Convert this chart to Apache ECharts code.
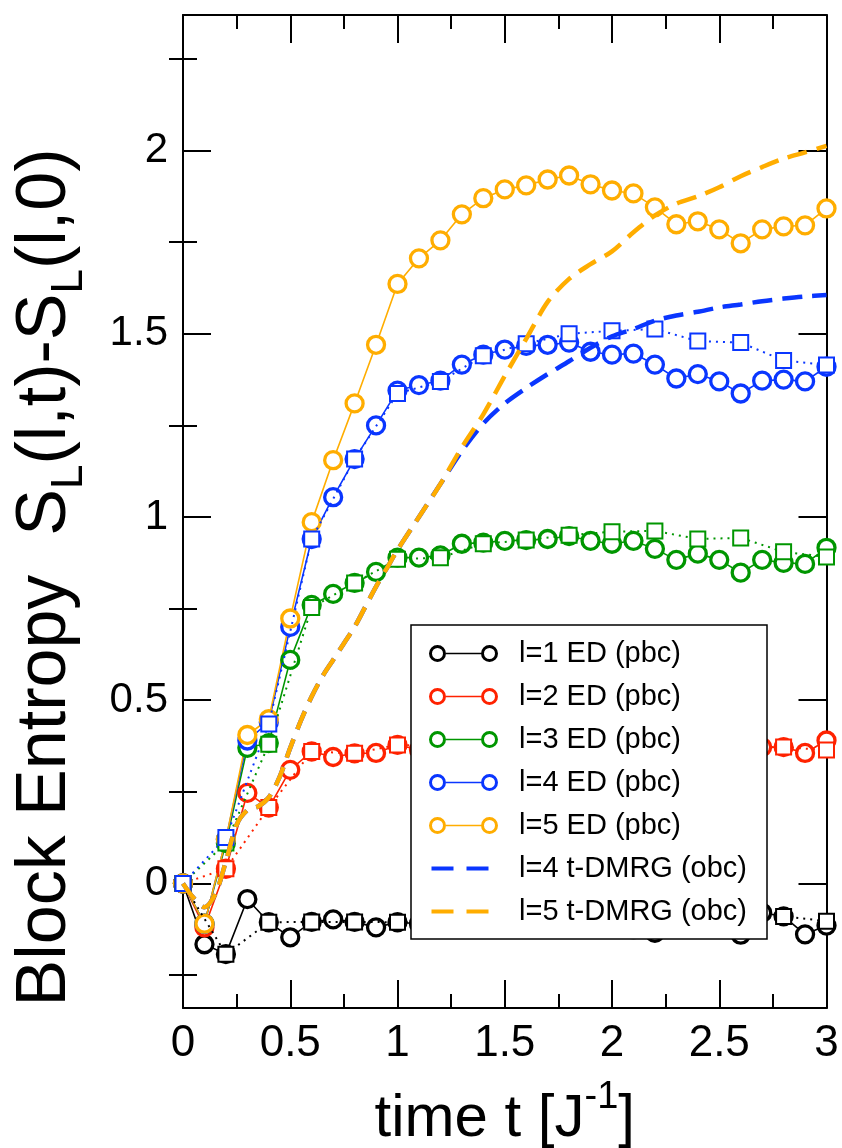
<!DOCTYPE html>
<html>
<head>
<meta charset="utf-8">
<script src="https://cdn.jsdelivr.net/npm/echarts@6/dist/echarts.min.js"></script>
<style>
html,body{margin:0;padding:0;background:#fff;}
#chart{width:842px;height:1148px;}
</style>
</head>
<body>
<div id="chart"></div>
<script>
// ---------- data ----------
const tED = [0,0.1,0.2,0.3,0.4,0.5,0.6,0.7,0.8,0.9,1.0,1.1,1.2,1.3,1.4,1.5,1.6,1.7,1.8,1.9,2.0,2.1,2.2,2.3,2.4,2.5,2.6,2.7,2.8,2.9,3.0];
const tObc = [0,0.2,0.4,0.6,0.8,1.0,1.2,1.4,1.6,1.8,2.0,2.2,2.4,2.6,2.8,3.0];
const tDMRG = [0,0.05,0.1,0.15,0.2,0.25,0.3,0.35,0.4,0.45,0.5,0.55,0.6,0.65,0.7,0.75,0.8,0.85,0.9,0.95,1.0,1.1,1.2,1.3,1.4,1.5,1.6,1.7,1.8,1.9,2.0,2.1,2.2,2.3,2.4,2.5,2.6,2.7,2.8,2.9,3.0];

const l1ED = [0,-0.166,-0.193,-0.043,-0.106,-0.147,-0.105,-0.098,-0.105,-0.12,-0.106,-0.11,-0.105,-0.12,-0.11,-0.115,-0.1,-0.11,-0.12,-0.105,-0.11,-0.125,-0.135,-0.11,-0.12,-0.115,-0.14,-0.08,-0.09,-0.139,-0.115];
const l2ED = [0,-0.12,0.04,0.247,0.207,0.31,0.36,0.345,0.355,0.356,0.378,0.365,0.375,0.36,0.372,0.368,0.38,0.37,0.376,0.37,0.368,0.375,0.365,0.37,0.36,0.372,0.365,0.372,0.372,0.356,0.39];
const l3ED = [0,-0.11,0.11,0.37,0.383,0.61,0.76,0.79,0.82,0.85,0.889,0.889,0.895,0.927,0.93,0.935,0.937,0.94,0.948,0.935,0.927,0.935,0.913,0.883,0.9,0.883,0.848,0.883,0.875,0.872,0.916];
const l4ED = [0,-0.11,0.12,0.39,0.44,0.70,0.94,1.054,1.158,1.25,1.345,1.36,1.372,1.416,1.443,1.457,1.467,1.47,1.476,1.451,1.443,1.446,1.416,1.378,1.39,1.37,1.337,1.372,1.375,1.37,1.41];
const l5ED = [0,-0.11,0.12,0.405,0.448,0.723,0.986,1.155,1.31,1.47,1.636,1.706,1.755,1.826,1.87,1.894,1.905,1.921,1.932,1.908,1.891,1.883,1.845,1.799,1.807,1.785,1.747,1.785,1.793,1.796,1.842];

const l1Obc = [0,-0.193,-0.106,-0.105,-0.105,-0.106,-0.105,-0.11,-0.1,-0.115,-0.105,-0.115,-0.11,-0.105,-0.09,-0.103];
const l2Obc = [0,0.04,0.207,0.36,0.355,0.378,0.375,0.372,0.38,0.376,0.368,0.37,0.372,0.37,0.372,0.364];
const l3Obc = [0,0.11,0.38,0.753,0.82,0.885,0.889,0.927,0.937,0.95,0.96,0.962,0.94,0.943,0.905,0.891];
const l4Obc = [0,0.125,0.435,0.94,1.158,1.337,1.37,1.44,1.473,1.50,1.508,1.513,1.48,1.476,1.427,1.415];

const l4DMRG = [0,-0.04,-0.065,-0.03,0.06,0.16,0.2,0.21,0.235,0.29,0.37,0.445,0.51,0.565,0.61,0.655,0.7,0.755,0.81,0.86,0.91,1.0,1.09,1.18,1.255,1.31,1.352,1.39,1.425,1.462,1.493,1.513,1.536,1.55,1.56,1.572,1.58,1.589,1.596,1.602,1.606];
const l5DMRG = [0,-0.04,-0.065,-0.03,0.06,0.16,0.2,0.21,0.235,0.29,0.37,0.445,0.51,0.565,0.61,0.655,0.7,0.755,0.81,0.86,0.91,1.0,1.09,1.19,1.28,1.385,1.486,1.587,1.65,1.69,1.725,1.777,1.823,1.855,1.875,1.90,1.93,1.955,1.978,1.995,2.013];

const xTicks = [0,0.5,1,1.5,2,2.5,3];
const yMajor = [0,0.5,1,1.5,2];
const yMinor = [-0.25,0.25,0.75,1.25,1.75,2.25];

const edNames = ['l=1 ED (pbc)','l=2 ED (pbc)','l=3 ED (pbc)','l=4 ED (pbc)','l=5 ED (pbc)'];
const obcNames = ['l=1 ED (obc)','l=2 ED (obc)','l=3 ED (obc)','l=4 ED (obc)'];
const dmrgNames = ['l=4 t-DMRG (obc)','l=5 t-DMRG (obc)'];

// ---------- styles ----------
const colors = ['#000000','#ff2200','#009600','#0a36ff','#ffad00'];
const FONT = 'Liberation Sans, Arial, Helvetica, sans-serif';

function zip(xs, ys){ return xs.map((x,i)=>[x, ys[i]]); }

const edData = [l1ED,l2ED,l3ED,l4ED,l5ED];
const obcData = [l1Obc,l2Obc,l3Obc,l4Obc];

const series = [];
edData.forEach((d,i)=>{
  series.push({
    name: edNames[i], type:'line', data: zip(tED,d),
    symbol:'circle', symbolSize:17, showAllSymbol:true,
    itemStyle:{color:'#ffffff', borderColor:colors[i], borderWidth:3.3},
    lineStyle:{color:colors[i], width:1.6},
    z: 3, emphasis:{disabled:true}
  });
});
obcData.forEach((d,i)=>{
  series.push({
    name: obcNames[i], type:'line', data: zip(tObc,d),
    symbol:'rect', symbolSize:15, showAllSymbol:true,
    itemStyle:{color:'#ffffff', borderColor:colors[i], borderWidth:2},
    lineStyle:{color:colors[i], width:2, type:[2,5]},
    z: 4, emphasis:{disabled:true}
  });
});
[l4DMRG,l5DMRG].forEach((d,i)=>{
  const c = colors[3+i];
  series.push({
    name: dmrgNames[i], type:'line', data: zip(tDMRG,d),
    showSymbol:false, symbol:'none', smooth:0.3,
    itemStyle:{color:c},
    lineStyle:{color:c, width:4.5, type:[20,10]},
    z: 5, emphasis:{disabled:true}
  });
});

const ring = (cx)=>`M${cx-8.5},8.5 A8.5,8.5 0 1,0 ${cx+8.5},8.5 A8.5,8.5 0 1,0 ${cx-8.5},8.5 Z M${cx-5.5},8.5 A5.5,5.5 0 1,1 ${cx+5.5},8.5 A5.5,5.5 0 1,1 ${cx-5.5},8.5 Z`;
const edIcon = 'path://' + ring(8.5) + ' M17,7.7 L52,7.7 L52,9.3 L17,9.3 Z ' + ring(60.5);
const dashIcon = 'path://M3,0 L4,0 L4,0.01 L3,0.01 Z M69,17 L68,17 L68,16.99 L69,16.99 Z M4,6.5 L26,6.5 L26,10.5 L4,10.5 Z M39,6.5 L61,6.5 L61,10.5 L39,10.5 Z';

const legendData = edNames.map((n,i)=>({name:n, icon: edIcon, itemStyle:{color:colors[i], borderWidth:0}}))
  .concat(dmrgNames.map((n,i)=>({name:n, icon: dashIcon, itemStyle:{color:colors[3+i], borderWidth:0}})));

const tickStyle = {color:'#000', width:2};

const option = {
  animation:false,
  backgroundColor:'#ffffff',
  textStyle:{fontFamily:FONT},
  grid:{left:183, right:15.5, top:15, bottom:140, containLabel:false, outerBoundsMode:'none'},
  legend:{
    data: legendData, orient:'vertical', left:411, top:625,
    itemWidth:69, itemHeight:17, itemGap:14,
    padding:[14,20,13,18],
    backgroundColor:'#ffffff', borderColor:'#000', borderWidth:1.5,
    textStyle:{fontFamily:FONT, fontSize:29, color:'#000', padding:[0,0,0,16]},
    selectedMode:false, z:10
  },
  xAxis:[
    {type:'value', min:0, max:3, interval:0.5, position:'bottom',
     axisLine:{show:true, onZero:false, lineStyle:tickStyle},
     axisTick:{show:true, inside:true, length:28, lineStyle:tickStyle},
     minorTick:{show:true, splitNumber:2, length:14, lineStyle:tickStyle},
     splitLine:{show:false}, minorSplitLine:{show:false},
     axisLabel:{fontFamily:FONT, fontSize:44, color:'#000', margin:14},
     name:'{m|time t [J}{p|-1}{m|]}', nameLocation:'middle', nameGap:71,
     nameTextStyle:{rich:{
       m:{fontFamily:FONT, fontSize:60, color:'#000', lineHeight:80},
       p:{fontFamily:FONT, fontSize:38, color:'#000', verticalAlign:'top'}
     }}
    },
    {type:'value', min:0, max:3, interval:0.5, position:'top',
     axisLine:{show:true, onZero:false, lineStyle:tickStyle},
     axisTick:{show:true, inside:true, length:28, lineStyle:tickStyle},
     minorTick:{show:true, splitNumber:2, length:14, lineStyle:tickStyle},
     splitLine:{show:false}, axisLabel:{show:false}
    }
  ],
  yAxis:[
    {type:'value', min:-0.34, max:2.37, position:'left',
     axisLine:{show:true, onZero:false, lineStyle:tickStyle},
     axisTick:{show:true, inside:true, length:28, lineStyle:tickStyle, customValues:yMajor},
     splitLine:{show:false},
     axisLabel:{fontFamily:FONT, fontSize:42, color:'#000', margin:15, customValues:yMajor,
       showMinLabel:true, showMaxLabel:true},
     name:'{m|Block Entropy  S}{s|L}{m|(l,t)-S}{s|L}{m|(l,0)}',
     nameLocation:'middle', nameRotate:90, nameGap:91,
     nameTextStyle:{padding:[0,132,0,0], rich:{
       m:{fontFamily:FONT, fontSize:70, color:'#000', lineHeight:92},
       s:{fontFamily:FONT, fontSize:44, color:'#000', verticalAlign:'bottom'}
     }}
    },
    {type:'value', min:-0.34, max:2.37, position:'left',
     axisLine:{show:false},
     axisTick:{show:true, inside:true, length:14, lineStyle:tickStyle, customValues:yMinor},
     splitLine:{show:false}, axisLabel:{show:false}
    },
    {type:'value', min:-0.34, max:2.37, position:'right',
     axisLine:{show:true, onZero:false, lineStyle:tickStyle},
     axisTick:{show:true, inside:true, length:28, lineStyle:tickStyle, customValues:yMajor},
     splitLine:{show:false}, axisLabel:{show:false}
    },
    {type:'value', min:-0.34, max:2.37, position:'right',
     axisLine:{show:false},
     axisTick:{show:true, inside:true, length:14, lineStyle:tickStyle, customValues:yMinor},
     splitLine:{show:false}, axisLabel:{show:false}
    }
  ],
  series: series
};

const chart = echarts.init(document.getElementById('chart'), null, {renderer:'canvas'});
chart.setOption(option);
</script>
</body>
</html>
